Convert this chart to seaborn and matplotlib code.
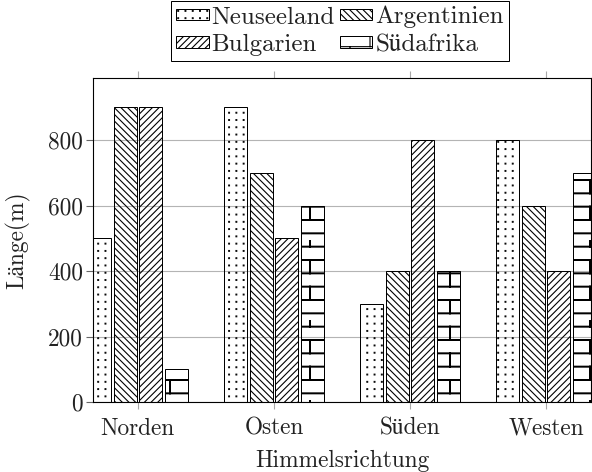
import warnings

import matplotlib
import matplotlib.pyplot as plt
import numpy as np
import pandas as pd
import seaborn as sns
from matplotlib import hatch as mhatch
from matplotlib.path import Path

matplotlib.use("Agg")
warnings.filterwarnings("ignore")

CATEGORIES = ["Norden", "Osten", "Süden", "Westen"]
COUNTRIES = ["Neuseeland", "Argentinien", "Bulgarien", "Südafrika"]
NEUSEELAND = [500, 900, 300, 800]
ARGENTINIEN = [900, 700, 400, 600]
BULGARIEN = [900, 500, 800, 400]
SUEDAFRIKA = [100, 600, 400, 700]
Y_TICKS = [0, 200, 400, 600, 800]

# pgfplots patterns: dots, north west lines, north east lines, bricks
HATCHES = ["d", "\\\\\\\\", "////", "b"]


class DotGrid(mhatch.HatchPatternBase):
    """Square grid of small filled dots (pgf 'dots')."""

    def __init__(self, hatch, density):
        self.n = 11 if "d" in hatch else 0
        self.num_vertices = self.n * self.n * 5

    def set_vertices_and_codes(self, vertices, codes):
        s = 0.005
        pts = (np.arange(self.n) + 0.5) / self.n
        xx, yy = np.meshgrid(pts, pts)
        centers = np.stack([xx.ravel(), yy.ravel()], axis=1)
        square = np.array([[-s, -s], [s, -s], [s, s], [-s, s], [-s, -s]])
        vertices[:] = (centers[:, None, :] + square[None]).reshape(-1, 2)
        codes[:] = np.tile(
            [Path.MOVETO, Path.LINETO, Path.LINETO, Path.LINETO, Path.CLOSEPOLY],
            self.n * self.n,
        )


class Bricks(mhatch.HatchPatternBase):
    """Brick wall (pgf 'bricks'), two bricks per row and unit."""

    def __init__(self, hatch, density):
        self.rows = 6 if "b" in hatch else 0
        self.num_vertices = self.rows * 6

    def set_vertices_and_codes(self, vertices, codes):
        h = 1.0 / self.rows
        for i in range(self.rows):
            y = (i + 0.5) * h
            x = 0.125 if i % 2 == 0 else 0.375
            vertices[6 * i:6 * i + 6] = [
                [-0.1, y], [1.1, y],
                [x, y], [x, y + h],
                [x + 0.5, y], [x + 0.5, y + h],
            ]
        codes[:] = np.tile([Path.MOVETO, Path.LINETO], self.rows * 3)


mhatch._hatch_types += [DotGrid, Bricks]

sns.set_theme(style="ticks")
plt.rcParams["font.family"] = ["cmr10", "STIXGeneral"]
plt.rcParams["mathtext.fontset"] = "cm"
plt.rcParams["axes.unicode_minus"] = False
plt.rcParams["font.size"] = 21
plt.rcParams["hatch.linewidth"] = 1.0
plt.rcParams["hatch.color"] = "black"

df = pd.DataFrame({
    "Himmelsrichtung": CATEGORIES * len(COUNTRIES),
    "Land": np.repeat(COUNTRIES, len(CATEGORIES)),
    "Länge": NEUSEELAND + ARGENTINIEN + BULGARIEN + SUEDAFRIKA,
})

fig = plt.figure(figsize=(7.4, 5.9), dpi=80)
ax = fig.add_axes([93 / 592, 70 / 472, 498 / 592, 324 / 472])

sns.barplot(
    data=df, x="Himmelsrichtung", y="Länge", hue="Land", hue_order=COUNTRIES,
    order=CATEGORIES, width=0.75, gap=0.1, errorbar=None, legend=False,
    palette=["white"] * len(COUNTRIES), ax=ax,
)

for container, hatch in zip(ax.containers, HATCHES):
    for bar in container:
        bar.set_facecolor("none")
        bar.set_edgecolor("black")
        bar.set_linewidth(0.9)
        bar.set_hatch(hatch)
        if hatch == "b" and hasattr(bar, "set_hatch_linewidth"):
            bar.set_hatch_linewidth(1.8)

ax.set_xlim(-0.33, 3.33)
ax.set_ylim(0, 990)
ax.set_yticks(Y_TICKS)
ax.yaxis.grid(True, color="#b4b4b4", linewidth=1.0)
ax.set_axisbelow(True)

for side in ["left", "right", "top", "bottom"]:
    ax.spines[side].set_color("black")
    ax.spines[side].set_linewidth(1.0)

ax.tick_params(axis="x", direction="out", length=6.5, width=1.0, color="#a8a8a8",
               top=True, labelsize=21, pad=7.5, labelcolor="#222222")
ax.tick_params(axis="y", direction="out", length=6, width=1.0, color="#666666",
               labelsize=21, pad=3, labelcolor="#222222")

ax.set_xlabel("Himmelsrichtung", fontsize=21, color="#222222", labelpad=9)
ax.set_ylabel("Länge(m)", fontsize=21, color="#222222", labelpad=16)

order = [0, 2, 1, 3]
leg = ax.legend(
    [ax.containers[i][0] for i in order], [COUNTRIES[i] for i in order],
    ncol=2, loc="upper center", bbox_to_anchor=(340 / 592, 1 - 1 / 472),
    bbox_transform=fig.transFigure, frameon=True, fancybox=False,
    edgecolor="black", framealpha=1, fontsize=22.5, handlelength=1.3,
    handleheight=0.33, handletextpad=0.12, columnspacing=0.2,
    labelspacing=0.22, borderpad=0.2, borderaxespad=0,
)
leg.get_frame().set_linewidth(0.9)
for t in leg.get_texts():
    t.set_color("#222222")

fig.savefig("out.png", dpi=80)
